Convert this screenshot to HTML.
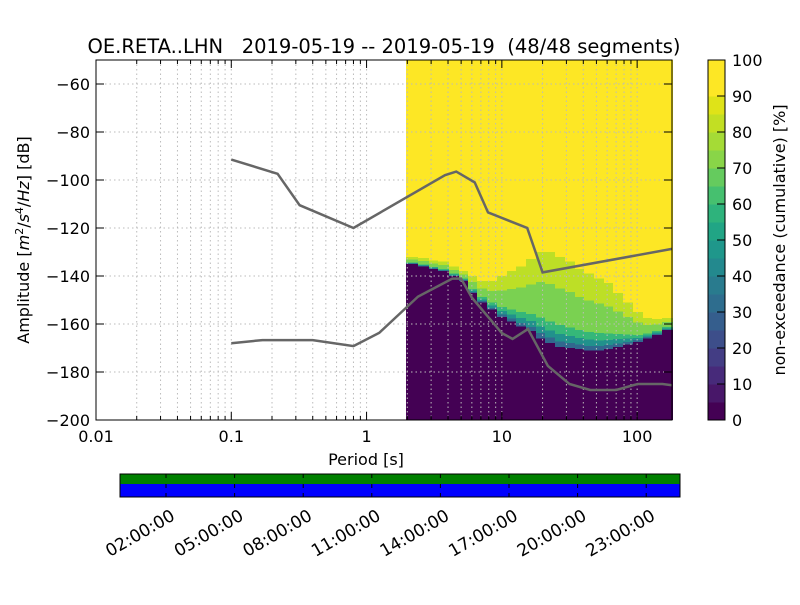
<!DOCTYPE html>
<html><head><meta charset="utf-8"><style>
body{margin:0;background:#fff}
svg{font-family:"DejaVu Sans","Liberation Sans",sans-serif}
rect{shape-rendering:crispEdges}
</style></head><body>
<svg id="s" width="800" height="600" xmlns="http://www.w3.org/2000/svg">
<rect width="800" height="600" fill="#fff"/>
<text x="384" y="53" font-size="19.5" text-anchor="middle" style="white-space:pre">OE.RETA..LHN   2019-05-19 -- 2019-05-19  (48/48 segments)</text>
<g id="heat"></g>
<g id="grid"></g>
<g id="lines"></g>
<rect x="96" y="60" width="576" height="360" fill="none" stroke="#000" stroke-width="1"/>
<g id="ticks"></g>
<text x="366" y="465" font-size="16" text-anchor="middle">Period [s]</text>
<text transform="translate(29,240) rotate(-90)" font-size="16" text-anchor="middle">Amplitude [<tspan font-style="italic">m</tspan><tspan font-size="11" dy="-6">2</tspan><tspan dy="6">/</tspan><tspan font-style="italic">s</tspan><tspan font-size="11" dy="-6">4</tspan><tspan dy="6">/</tspan><tspan font-style="italic">Hz</tspan>] [dB]</text>
<g id="cbar"></g>
<text transform="translate(785,240) rotate(-90)" font-size="16" text-anchor="middle">non-exceedance (cumulative) [%]</text>
<g id="timeline"></g>
</svg>
<script>
// data
const nhnmPeriods=[0.1,0.22,0.32,0.8,3.8,4.6,6.3,7.9,15.4,20,181];
const nhnmDb=[-91.5,-97.4,-110.5,-120,-98,-96.5,-101,-113.5,-120,-138.5,-128.7];
const nlnmPeriods=[0.1,0.17,0.4,0.8,1.24,2.4,4.3,5,6,10,12,15.6,21.9,31.6,45,70,101,154,181];
const nlnmDb=[-168,-166.7,-166.7,-169.2,-163.7,-148.6,-141.1,-141.1,-149,-163.8,-166.2,-162.1,-177.5,-185,-187.5,-187.5,-185,-185,-185.5];
// heatmap column periods (left edge), dark-top dB (10%), yellow-bottom dB (90%)
const binPeriods=[1.94,2.4,2.9,3.4,4.1,4.8,5.6,6.6,7.8,9.2,10.9,12.8,15.1,17.8,21,24.8,29.3,34.5,40.7,48,56.6,66.8,78.8,93,109.7,129.4,152.7];
const darkTopDb=[-135,-136,-137,-138,-140,-142,-147,-151,-154,-157,-159,-161,-163,-166,-168,-169.5,-170,-170.5,-171,-171,-170.5,-169.5,-168.5,-167.5,-166,-164.5,-162.5];
const yellowBotDb=[-132,-132.5,-133.5,-134,-136,-138,-140,-142,-142,-140,-138,-136,-133,-130,-130,-132,-134,-137,-139,-141,-143,-147,-151,-155,-157.5,-158,-157.5];
const xTicks=[0.01,0.1,1,10,100];
const xTickLabels=["0.01","0.1","1","10","100"];
const yTicks=[-200,-180,-160,-140,-120,-100,-80,-60];
const cbTicks=[0,10,20,30,40,50,60,70,80,90,100];
const timeLabels=["02:00:00","05:00:00","08:00:00","11:00:00","14:00:00","17:00:00","20:00:00","23:00:00"];
const timeHours=[2,5,8,11,14,17,20,23];

const NS="http://www.w3.org/2000/svg";
const X0=96,X1=672,Y0=60,Y1=420,LMIN=-2,LMAX=Math.log10(181);
const xs=p=>X0+(Math.log10(p)-LMIN)/(LMAX-LMIN)*(X1-X0);
const ys=d=>Y1-(d+200)/150*(Y1-Y0);
function el(t,a,p){const e=document.createElementNS(NS,t);for(const k in a)e.setAttribute(k,a[k]);p.appendChild(e);return e;}
const heat=document.getElementById('heat');
const vir=["#440154","#31688e","#21918c","#35b779","#7ad151","#bddf26","#fde725"];
for(let i=0;i<binPeriods.length;i++){
  const xa=Math.round(xs(binPeriods[i])), xb=i+1<binPeriods.length?Math.round(xs(binPeriods[i+1])):X1;
  const dt=darkTopDb[i], yb=yellowBotDb[i];
  let r=el('rect',{x:xa,y:Y0,width:xb-xa+1,height:Y1-Y0,fill:vir[6]},heat);
  
  const steps=[[0,0.06,1],[0.06,0.14,2],[0.14,0.24,3],[0.24,0.65,4],[0.65,1,5]];
  for(const s of steps){
    const da=dt+(yb-dt)*s[0], db=dt+(yb-dt)*s[1];
    const c=el('rect',{x:xa,y:ys(db),width:xb-xa+1,height:Math.max(0,ys(da)-ys(db)),fill:vir[s[2]]},heat);
    
  }
  const d=el('rect',{x:xa,y:ys(dt),width:xb-xa+1,height:Y1-ys(dt),fill:vir[0]},heat);
  
}
const grid=document.getElementById('grid');
const tk=document.getElementById('ticks');
for(let e=-2;e<=2;e++)for(let m=1;m<10;m++){
  const p=m*Math.pow(10,e); if(p>181)continue;
  const x=xs(p);
  if(x>X0+0.5&&x<X1-0.5){const g=el('line',{x1:x,x2:x,y1:Y0,y2:Y1,stroke:"#bbb","stroke-dasharray":"1.5,3","stroke-width":1},grid);
  }
  const L=m==1?8:4;
  el('line',{x1:x,x2:x,y1:Y1,y2:Y1-L,stroke:"#000"},tk);
  el('line',{x1:x,x2:x,y1:Y0,y2:Y0+L,stroke:"#000"},tk);
}
xTicks.forEach((p,i)=>{const t=el('text',{x:xs(p),y:442,"font-size":16,"text-anchor":"middle"},tk);t.textContent=xTickLabels[i];
});
yTicks.forEach(d=>{const y=ys(d);
  if(d>-200){const g=el('line',{x1:X0,x2:X1,y1:y,y2:y,stroke:"#bbb","stroke-dasharray":"1.5,3"},grid);
  }
  el('line',{x1:X0,x2:X0+8,y1:y,y2:y,stroke:"#000"},tk);el('line',{x1:X1,x2:X1-8,y1:y,y2:y,stroke:"#000"},tk);
  const t=el('text',{x:90,y:y+6,"font-size":16,"text-anchor":"end"},tk);t.textContent="\u2212"+Math.abs(d);
  });
const lines=document.getElementById('lines');
function poly(P,D,name){const pts=P.map((p,i)=>xs(p)+","+ys(D[i])).join(" ");
  const l=el('polyline',{points:pts,fill:"none",stroke:"#666","stroke-width":2.5},lines);
  }
poly(nhnmPeriods,nhnmDb,'nhnm-line');poly(nlnmPeriods,nlnmDb,'nlnm-line');
const cb=document.getElementById('cbar');
const cbCols=["#440154","#481769","#472a7a","#433d84","#3d4e8a","#355e8d","#2e6d8e","#297b8e","#23898e","#1f978b","#21a585","#2eb37c","#46c06f","#65cb5e","#89d548","#a5db36","#c2df23","#dfe318","#fde725","#fde725"];
const CY0=60,CY1=420;
cbCols.forEach((c,i)=>{const h=(CY1-CY0)/cbCols.length;
  const r=el('rect',{x:708,y:CY1-(i+1)*h,width:17,height:h+0.5,fill:c},cb);
  });
el('rect',{x:708,y:CY0,width:17,height:CY1-CY0,fill:"none",stroke:"#000"},cb);
cbTicks.forEach(v=>{const y=CY1-v/100*(CY1-CY0);
  el('line',{x1:717,x2:725,y1:y,y2:y,stroke:"#000"},cb);
  const t=el('text',{x:732,y:y+6,"font-size":16},cb);t.textContent=v;
  });
const tl=document.getElementById('timeline');
const TX0=120,TX1=680;
let g=el('rect',{x:TX0,y:474,width:TX1-TX0,height:10,fill:"#008000"},tl);

let b=el('rect',{x:TX0,y:484,width:TX1-TX0,height:13,fill:"#0000ff"},tl);

el('rect',{x:TX0,y:474,width:TX1-TX0,height:23,fill:"none",stroke:"#000"},tl);
const tx=h=>166+(h-2)/3*68.6;
timeHours.forEach((h,i)=>{const x=tx(h);
  el('line',{x1:x,x2:x,y1:474,y2:478,stroke:"#000"},tl);el('line',{x1:x,x2:x,y1:497,y2:493,stroke:"#000"},tl);
  el('line',{x1:x,x2:x,y1:484,y2:488,stroke:"#000"},tl);
  const t=el('text',{transform:`translate(${x+10},${519}) rotate(-30)`,"font-size":17,"text-anchor":"end"},tl);t.textContent=timeLabels[i];
  });
</script>
</body></html>
